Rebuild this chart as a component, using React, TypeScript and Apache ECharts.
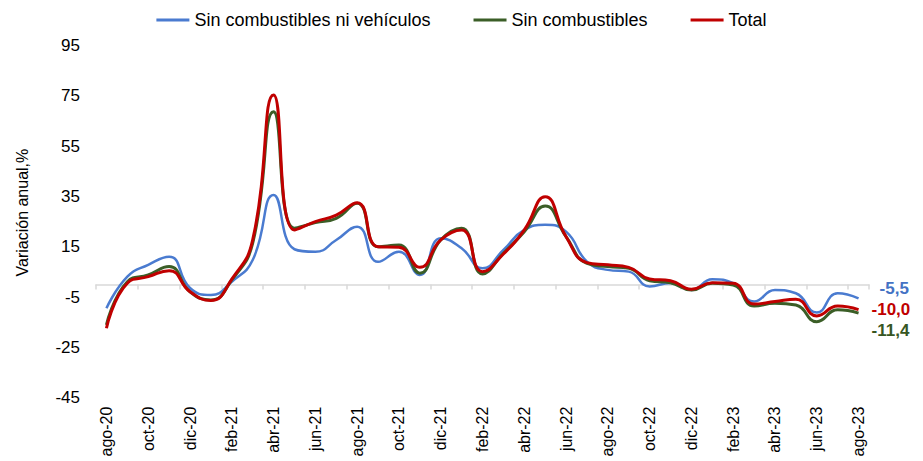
import React, { useEffect, useRef } from "react";
import * as echarts from "echarts";

const months = [
  "ago-20", "sep-20", "oct-20", "nov-20", "dic-20", "ene-21", "feb-21", "mar-21", "abr-21", "may-21",
  "jun-21", "jul-21", "ago-21", "sep-21", "oct-21", "nov-21", "dic-21", "ene-22", "feb-22", "mar-22",
  "abr-22", "may-22", "jun-22", "jul-22", "ago-22", "sep-22", "oct-22", "nov-22", "dic-22", "ene-23",
  "feb-23", "mar-23", "abr-23", "may-23", "jun-23", "jul-23", "ago-23",
];

const sinCombNiVeh = [
  -9.5, 3.1, 7.8, 11, -1.4, -4.2, 1.1, 9.7, 35.6, 14,
  13, 17.7, 23, 9, 13, 3.8, 18.4, 14.4, 6.4, 13.7,
  21.7, 23.7, 21, 9.1, 5.8, 5.1, -0.8, 0.6, -2.2, 2.1,
  0.5, -6.8, -2.2, -3.5, -11.2, -3.5, -5.5,
];

const sinComb = [
  -16.1, 1.1, 3.8, 7.1, -2.9, -6.2, 1.8, 16.4, 68.7, 22.4,
  24.6, 26.3, 32.3, 15, 15.7, 4.5, 17.7, 22.4, 4.2, 12.4,
  21, 31.2, 19, 8.4, 7.1, 6.4, 1.5, 0.7, -2.2, 0.5,
  -0.2, -8.6, -7.5, -8.2, -14.8, -10.1, -11.4,
];

const total = [
  -17.4, 0.5, 3.1, 5.5, -2.9, -6.4, 2.1, 17.7, 75.4, 21.7,
  25, 27.6, 32.5, 15, 14.8, 6.8, 17.7, 21.7, 5.1, 12.1,
  21.7, 34.9, 19, 8.7, 7.8, 6.8, 2.2, 1.5, -1.9, 0.7,
  0.5, -7.8, -6.8, -5.9, -12.5, -8.6, -10.0,
];

const seriesNames = ["Sin combustibles ni vehículos", "Sin combustibles", "Total"];
const yMin = -45;
const yMax = 95;
const yStep = 20;

const FONT = "'Liberation Sans', Arial, sans-serif";

const fmt = (v: number) => v.toFixed(1).replace(".", ",");

export default function App() {
  const ref = useRef<HTMLDivElement>(null);
  useEffect(() => {
    if (!ref.current) return;
    document.body.style.margin = "0";
    const chart = echarts.init(ref.current, undefined, { renderer: "svg" });
    const mk = (name: string, data: number[], color: string, width: number, labelColor: string, offset: number[]) => ({
      name,
      type: "line",
      data,
      xAxisIndex: 0,
      smooth: 0.5,
      showSymbol: false,
      symbol: "none",
      lineStyle: { color, width },
      itemStyle: { color },
      endLabel: {
        show: true,
        formatter: (p: any) => fmt(p.value as number),
        color: labelColor,
        fontFamily: FONT,
        fontWeight: "bold",
        fontSize: 17,
        offset,
      },
      emphasis: { disabled: true },
    });
    chart.setOption({
      animation: false,
      textStyle: { fontFamily: FONT },
      legend: {
        top: 6,
        left: "center",
        icon: "rect",
        itemWidth: 33,
        itemHeight: 3,
        itemGap: 43,
        textStyle: { fontFamily: FONT, fontSize: 18, color: "#000" },
        data: seriesNames,
      },
      grid: { left: 96, right: 54, top: 45.6, bottom: 63.4 },
      xAxis: [
        {
          type: "category",
          data: months,
          boundaryGap: true,
          axisLine: { show: true, onZero: true, lineStyle: { color: "#d9d9d9", width: 1.5 } },
          axisTick: { show: true, interval: 1, alignWithLabel: false, length: 5, lineStyle: { color: "#d9d9d9", width: 1.5 } },
          axisLabel: { show: false, interval: 1 },
          splitLine: { show: false },
        },
        {
          type: "category",
          data: months,
          position: "bottom",
          boundaryGap: true,
          axisLine: { show: false, onZero: false },
          axisTick: { show: false },
          axisLabel: {
            show: true,
            interval: 1,
            rotate: 90,
            margin: 9,
            fontFamily: FONT,
            fontSize: 16,
            color: "#000",
          },
          splitLine: { show: false },
        },
      ],
      yAxis: {
        type: "value",
        min: yMin,
        max: yMax,
        interval: yStep,
        name: "Variación anual,%",
        nameLocation: "middle",
        nameRotate: 90,
        nameGap: 66,
        nameTextStyle: { fontFamily: FONT, fontSize: 16, color: "#000", padding: [0, 0, 0, 18] },
        axisLine: { show: false },
        axisTick: { show: false },
        splitLine: { show: false },
        axisLabel: { fontFamily: FONT, fontSize: 17, color: "#000", margin: 16 },
      },
      series: [
        mk(seriesNames[0], sinCombNiVeh, "#4a7bd0", 2.5, "#4472c4", [13, -10]),
        mk(seriesNames[1], sinComb, "#3b5e27", 3, "#375623", [5, 17]),
        mk(seriesNames[2], total, "#c00000", 3, "#c00000", [5, 0]),
      ],
    });
    return () => chart.dispose();
  }, []);
  return <div ref={ref} style={{ width: 923, height: 461 }} />;
}
